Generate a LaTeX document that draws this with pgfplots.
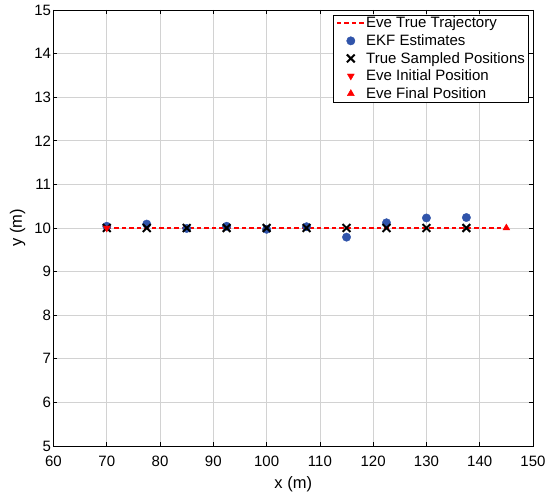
\documentclass[border=0pt]{standalone}
\usepackage{pgfplots}
\pgfplotsset{compat=1.18}
\usepackage{fontspec}
\setmainfont{Liberation Sans}
\definecolor{ekf}{RGB}{48,84,170}
\definecolor{trajred}{RGB}{255,0,0}
\pgfplotsset{
  legmark/.style={legend image code/.code={\draw[mark repeat=2,mark phase=2,##1] plot coordinates {(0pt,0pt) (14pt,0pt) (28pt,0pt)};}},
  legline/.style={legend image code/.code={\draw[draw=trajred, line width=1.6pt, dash pattern=on 4.5pt off 3pt] (0pt,0pt) -- (28pt,0pt);}},
}
\begin{document}
\begin{tikzpicture}
\useasboundingbox (-53.5pt,-50pt) rectangle (496.5pt,446pt);
\begin{axis}[
  scale only axis, width=479.5pt, height=436pt,
  xmin=60, xmax=150, ymin=5, ymax=15,
  xtick={60,70,...,150}, ytick={5,6,...,15},
  grid=major, grid style={gray!35, line width=0.6pt},
  axis line style={black, line width=0.7pt},
  tick style={black, line width=0.7pt}, tick align=inside,
  major tick length=4pt,
  /pgf/number format/assume math mode=true,
  ticklabel style={font=\fontsize{15}{17}\selectfont},
  xticklabel style={yshift=-6pt},
  yticklabel style={xshift=1pt},
  xlabel={x (m)}, ylabel={y (m)},
  label style={font=\fontsize{16.5}{18}\selectfont},
  xlabel style={yshift=-4pt}, ylabel style={yshift=2pt},
  legend style={at={(rel axis cs:0.99,0.989)}, anchor=north east,
    font=\fontsize{15}{16}\selectfont,
    inner xsep=2.5pt, inner ysep=1.5pt, row sep=4pt,
    nodes={inner sep=0.6pt}, cells={anchor=west}},
  legend cell align=left,
]
\addplot[draw=trajred, color=trajred, line width=1.6pt, dash pattern=on 4.5pt off 3pt, legline] coordinates {(70,10) (145,10)};
\addlegendentry{Eve True Trajectory}
\addplot[only marks, mark=*, mark size=4.2pt, ekf, mark options={draw=ekf, fill=ekf}, legmark] coordinates {
(70,10.04) (77.5,10.09) (85,9.99) (92.5,10.04) (100,9.97) (107.5,10.03) (115,9.79) (122.5,10.12) (130,10.23) (137.5,10.24)};
\addlegendentry{EKF Estimates}
\addplot[only marks, mark=x, mark size=5.5pt, black, line width=2pt, legmark] coordinates {
(70,10) (77.5,10) (85,10) (92.5,10) (100,10) (107.5,10) (115,10) (122.5,10) (130,10) (137.5,10)};
\addlegendentry{True Sampled Positions}
\addplot[only marks, mark=triangle*, mark size=4pt, red, mark options={rotate=180, draw=red, fill=red}, legmark] coordinates {(70,10)};
\addlegendentry{Eve Initial Position}
\addplot[only marks, mark=triangle*, mark size=4pt, red, mark options={draw=red, fill=red}, legmark] coordinates {(145,10)};
\addlegendentry{Eve Final Position}
\end{axis}
\end{tikzpicture}
\end{document}
